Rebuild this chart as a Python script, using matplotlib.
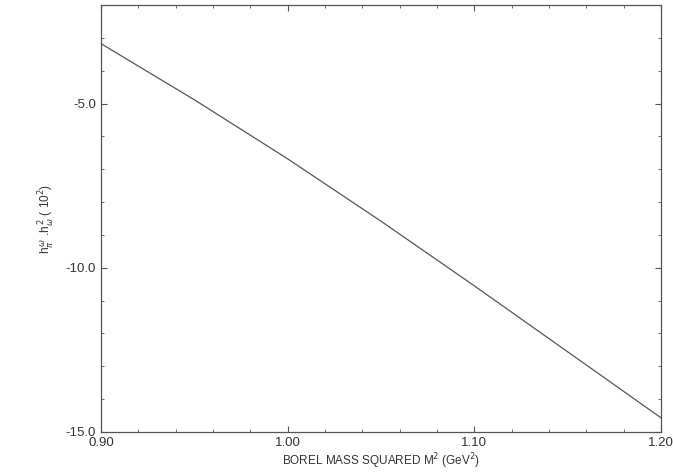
import matplotlib.pyplot as plt
from matplotlib.ticker import MultipleLocator
import numpy as np

# Borel mass squared (GeV^2) and the sum rule value
borel_m2 = [0.90, 0.95, 1.00, 1.05, 1.10, 1.15, 1.20]
coupling = [-3.17, -4.88, -6.68, -8.58, -10.55, -12.56, -14.57]

xticks = [0.90, 1.00, 1.10, 1.20]
xtick_labels = ['0.90', '1.00', '1.10', '1.20']
yticks = [-15.0, -10.0, -5.0]
ytick_labels = ['-15.0', '-10.0', '-5.0']

plt.rcParams['font.family'] = ['Liberation Sans', 'DejaVu Sans']

fig = plt.figure(figsize=(6.73, 4.74), dpi=100)
ax = fig.add_axes([0.150, 0.089, 0.832, 0.900])

ax.plot(borel_m2, coupling, color='#555555', linewidth=0.9)

ax.set_xlim(0.90, 1.20)
ax.set_ylim(-15.0, -2.0)
ax.set_xticks(xticks)
ax.set_xticklabels(xtick_labels)
ax.set_yticks(yticks)
ax.set_yticklabels(ytick_labels)
ax.xaxis.set_minor_locator(MultipleLocator(0.02))
ax.yaxis.set_minor_locator(MultipleLocator(1.0))

ax.tick_params(which='both', direction='in', top=True, right=True,
               colors='#555555', labelcolor='#333333', labelsize=9.5)
ax.tick_params(which='major', length=4, width=0.8)
ax.tick_params(which='minor', length=2.5, width=0.6)

for s in ax.spines.values():
    s.set_color('#555555')
    s.set_linewidth(0.9)

ax.set_xlabel('BOREL MASS SQUARED M$^2$ (GeV$^2$)', fontsize=8.5,
              color='#333333', labelpad=2)
ax.set_ylabel(r'h$_{\pi}^{\,\omega}$ .h$_{\omega}^{\,2}$ ( 10$^{2}$)',
              fontsize=8.5, color='#333333', labelpad=6)

plt.savefig('out.png', dpi=100)
